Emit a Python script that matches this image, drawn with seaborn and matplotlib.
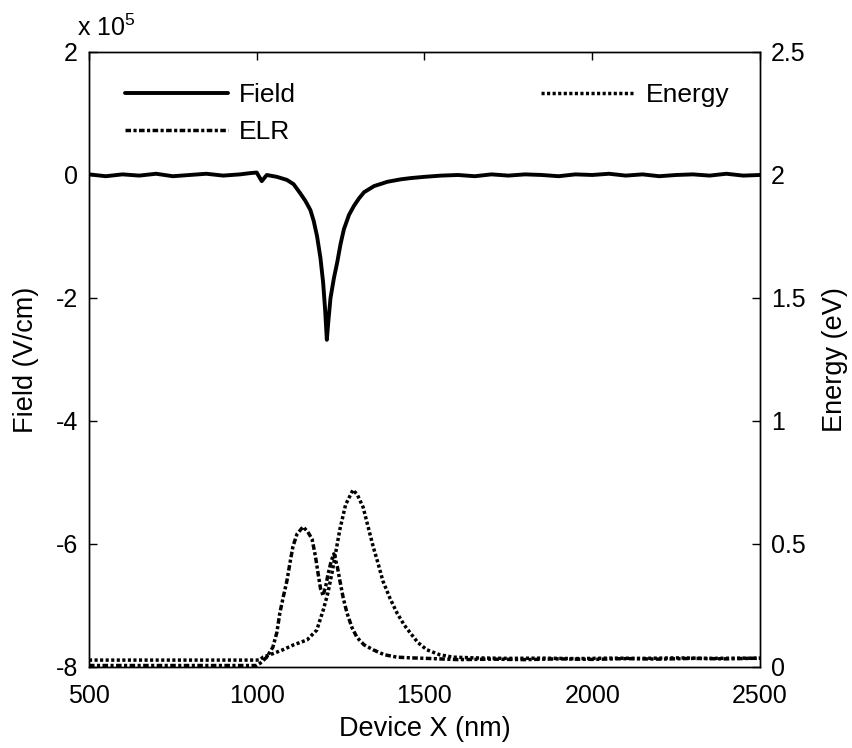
import numpy as np
import pandas as pd
import matplotlib
matplotlib.use("Agg")
import matplotlib.pyplot as plt
from matplotlib.ticker import FuncFormatter
import seaborn as sns

# Field profile (V/cm)
field_x = [500, 550, 600, 650, 700, 750, 800, 850, 900, 950, 980, 1000, 1015, 1030,
           1060, 1090, 1110, 1130, 1145, 1160, 1170, 1180, 1190, 1198, 1204, 1209,
           1214, 1220, 1230, 1240, 1250, 1260, 1275, 1290, 1305, 1320, 1350, 1390,
           1430, 1460, 1500, 1550, 1600, 1650, 1700, 1750, 1800, 1850, 1900, 1950,
           2000, 2050, 2100, 2150, 2200, 2250, 2300, 2350, 2400, 2450, 2500]
field_val = [0.01e5, -0.02e5, 0.01e5, -0.01e5, 0.02e5, -0.02e5, 0.0, 0.02e5, -0.01e5,
             0.01e5, 0.03e5, 0.04e5, -0.10e5, 0.0, -0.03e5, -0.08e5, -0.15e5, -0.30e5,
             -0.42e5, -0.57e5, -0.75e5, -1.00e5, -1.35e5, -1.75e5, -2.20e5, -2.68e5,
             -2.35e5, -2.00e5, -1.68e5, -1.42e5, -1.12e5, -0.88e5, -0.65e5, -0.50e5,
             -0.38e5, -0.28e5, -0.18e5, -0.11e5, -0.07e5, -0.05e5, -0.03e5, -0.01e5,
             0.0, -0.02e5, 0.01e5, -0.01e5, 0.01e5, 0.0, -0.02e5, 0.01e5, 0.0, 0.02e5,
             -0.01e5, 0.01e5, -0.02e5, 0.0, 0.01e5, -0.01e5, 0.02e5, -0.01e5, 0.0]

# Electron energy (eV)
energy_x = [500, 600, 700, 800, 900, 1000, 1010, 1019, 1050, 1078, 1110, 1150, 1179,
            1198, 1212, 1224, 1236, 1248, 1265, 1287, 1300, 1317, 1332, 1347, 1362,
            1376, 1397, 1418, 1440, 1457, 1480, 1507, 1545, 1585, 1650, 1750, 1850,
            1950, 2050, 2150, 2250, 2350, 2450, 2500]
energy_val = [0.028, 0.028, 0.028, 0.028, 0.028, 0.028, 0.03, 0.04, 0.055, 0.07, 0.09,
              0.11, 0.15, 0.23, 0.30, 0.38, 0.47, 0.56, 0.66, 0.72, 0.70, 0.65, 0.57,
              0.49, 0.42, 0.35, 0.28, 0.22, 0.17, 0.14, 0.10, 0.07, 0.05, 0.04, 0.037,
              0.035, 0.036, 0.034, 0.036, 0.035, 0.037, 0.035, 0.036, 0.035]

# ELR (drawn on the energy scale)
elr_x = [500, 600, 700, 800, 900, 1000, 1010, 1030, 1048, 1060, 1069, 1080, 1090, 1100,
         1108, 1120, 1138, 1152, 1165, 1175, 1183, 1190, 1198, 1206, 1213, 1222, 1230,
         1240, 1248, 1258, 1269, 1284, 1299, 1320, 1347, 1380, 1418, 1460, 1507, 1600,
         1700, 1800, 1900, 2000, 2100, 2200, 2300, 2400, 2500]
elr_val = [0.006, 0.006, 0.006, 0.006, 0.006, 0.006, 0.015, 0.04, 0.08, 0.14, 0.22, 0.29,
           0.35, 0.43, 0.49, 0.54, 0.57, 0.55, 0.52, 0.45, 0.38, 0.32, 0.29, 0.33, 0.38,
           0.43, 0.46, 0.41, 0.35, 0.28, 0.22, 0.16, 0.12, 0.09, 0.07, 0.05, 0.04, 0.037,
           0.035, 0.03, 0.032, 0.03, 0.033, 0.031, 0.034, 0.032, 0.035, 0.033, 0.036]

sns.set_style("white")
plt.rcParams['font.family'] = ['Liberation Sans', 'DejaVu Sans']
plt.rcParams['mathtext.fontset'] = 'custom'
plt.rcParams['mathtext.rm'] = 'Liberation Sans'
plt.rcParams['font.size'] = 18
for key in ['text.color', 'axes.labelcolor', 'xtick.color', 'ytick.color']:
    plt.rcParams[key] = 'black'

field_df = pd.DataFrame({'x': field_x, 'field': field_val})
energy_df = pd.DataFrame({'x': energy_x, 'energy': energy_val})
elr_df = pd.DataFrame({'x': elr_x, 'elr': elr_val})

fig = plt.figure(figsize=(8.53, 7.48), dpi=100)
ax = fig.add_axes([0.1043, 0.1083, 0.7866, 0.8222])
ax2 = ax.twinx()

sns.lineplot(data=field_df, x='x', y='field', ax=ax, color='black', lw=2.8,
             legend=False)
field_line = ax.get_lines()[-1]
sns.lineplot(data=elr_df, x='x', y='elr', ax=ax2, color='black', lw=2.5, legend=False)
elr_line = ax2.get_lines()[-1]
elr_line.set_linestyle((0, (1.6, 0.7, 0.9, 0.7)))
sns.lineplot(data=energy_df, x='x', y='energy', ax=ax2, color='black', lw=2.5,
             legend=False)
en_line = ax2.get_lines()[-1]
en_line.set_linestyle((0, (0.9, 0.7)))

ax.set_xlim(500, 2500)
ax.set_ylim(-8e5, 2e5)
ax2.set_ylim(0, 2.5)
ax.set_xticks([500, 1000, 1500, 2000, 2500])
ax.set_yticks(np.arange(-8e5, 2.1e5, 2e5))
ax.yaxis.set_major_formatter(FuncFormatter(lambda v, p: '%g' % (v / 1e5)))
ax2.set_yticks([0, 0.5, 1, 1.5, 2, 2.5])
ax2.yaxis.set_major_formatter(FuncFormatter(lambda v, p: '%g' % v))

ax.tick_params(axis='x', direction='in', length=6, width=1, labelsize=18, pad=12,
               top=True, colors='black')
ax.tick_params(axis='y', direction='in', length=6, width=1, labelsize=18, pad=8,
               colors='black')
ax2.tick_params(axis='y', direction='in', length=6, width=1, labelsize=18, pad=8,
                colors='black')
for a in (ax, ax2):
    for s in a.spines.values():
        s.set_linewidth(1)
        s.set_color('black')

ax.set_xlabel('Device X (nm)', fontsize=19.5, labelpad=6, color='black')
ax.set_ylabel('Field (V/cm)', fontsize=19.5, labelpad=12, color='black')
ax2.set_ylabel('Energy (eV)', fontsize=19.5, labelpad=12, color='black')
ax.text(-0.018, 1.018, r'x 10$^{5}$', transform=ax.transAxes, fontsize=18,
        ha='left', va='bottom', color='black')

ax.legend([field_line, elr_line], ['Field', 'ELR'], loc='upper left', frameon=False,
          bbox_to_anchor=(0.054, 0.95), handlelength=3.9, handletextpad=0.4,
          labelspacing=0.5, fontsize=19, borderaxespad=0, borderpad=0,
          labelcolor='black')
ax2.legend([en_line], ['Energy'], loc='upper right', frameon=False,
           bbox_to_anchor=(0.955, 0.95), handlelength=3.5, handletextpad=0.5,
           fontsize=19, borderaxespad=0, borderpad=0, labelcolor='black')

fig.savefig('out.png', dpi=100)
